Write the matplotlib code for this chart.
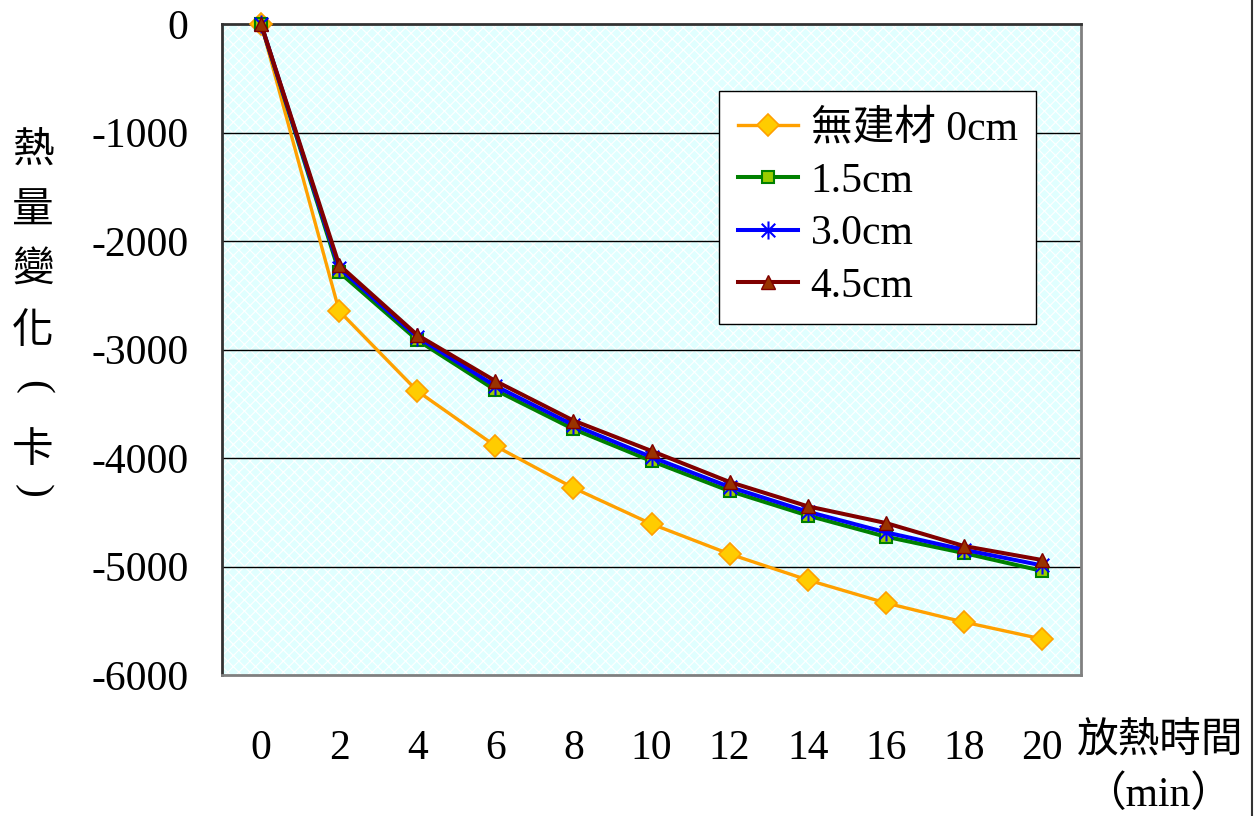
import matplotlib
matplotlib.use("Agg")
import matplotlib.pyplot as plt
from matplotlib.path import Path
from matplotlib.patches import Rectangle
from matplotlib.lines import Line2D

plt.rcParams['font.family'] = ['Liberation Serif', 'Noto Sans CJK TC']
plt.rcParams['hatch.color'] = 'white'
plt.rcParams['hatch.linewidth'] = 0.8

# heat-release time (min)
times = ["0", "2", "4", "6", "8", "10", "12", "14", "16", "18", "20"]

# heat change (cal) per insulation thickness
no_material = [0, -2645, -3382, -3889, -4276, -4608, -4885, -5124, -5336, -5512, -5668]
board_15 = [0, -2286, -2912, -3373, -3733, -4028, -4304, -4530, -4725, -4876, -5040]
board_30 = [0, -2249, -2885, -3336, -3696, -3991, -4267, -4495, -4685, -4845, -4990]
board_45 = [0, -2221, -2866, -3290, -3655, -3935, -4221, -4445, -4599, -4811, -4940]

series_labels = ["無建材 0cm", "1.5cm", "3.0cm", "4.5cm"]

y_ticks = [0, -1000, -2000, -3000, -4000, -5000, -6000]

# y-axis title written top to bottom; brackets are turned to lie across the column
y_title_chars = ["熱", "量", "變", "化", "(", "卡", ")"]
y_title_rot = [0, 0, 0, 0, -90, 0, -90]
y_title_pos = [150, 211, 270, 331, 387, 450, 491]

# asterisk marker: vertical bar plus an X
star_path = Path(
    [(0, -1), (0, 1), (-0.75, -0.75), (0.75, 0.75), (-0.75, 0.75), (0.75, -0.75)],
    [Path.MOVETO, Path.LINETO, Path.MOVETO, Path.LINETO, Path.MOVETO, Path.LINETO],
)

W, H = 1254, 816
fig = plt.figure(figsize=(W / 100, H / 100), dpi=100)
ax = fig.add_axes([222 / W, 1 - 675 / H, (1081 - 222) / W, (675 - 24) / H])

ax.set_facecolor('#E0FFFF')
ax.add_patch(Rectangle((0, 0), 1, 1, transform=ax.transAxes, facecolor='none',
                       hatch='xxx', linewidth=0, zorder=0))

x = list(range(len(times)))
styles = [
    dict(color='#FFA000', linewidth=2.4, marker='D', markersize=11,
         markerfacecolor='#FFCC00', markeredgecolor='#FFA000', markeredgewidth=1.2),
    dict(color='#008000', linewidth=2.9, marker='s', markersize=9,
         markerfacecolor='#99CC00', markeredgecolor='#008000', markeredgewidth=1.5),
    dict(color='#0000FF', linewidth=2.9, marker=star_path, markersize=13,
         markerfacecolor='none', markeredgecolor='#0000FF', markeredgewidth=1.5),
    dict(color='#800000', linewidth=2.9, marker='^', markersize=10,
         markerfacecolor='#993300', markeredgecolor='#800000', markeredgewidth=1.0),
]
for vals, lab, st in zip([no_material, board_15, board_30, board_45], series_labels, styles):
    ax.plot(x, vals, label=lab, clip_on=False, zorder=3, **st)

ax.set_xlim(-0.5, len(times) - 0.5)
ax.set_ylim(-6000, 0)
ax.set_xticks(x)
ax.set_xticklabels(times)
ax.set_yticks(y_ticks)
ax.set_yticklabels([str(v) for v in y_ticks])
ax.tick_params(axis='both', length=0, labelsize=30)
ax.tick_params(axis='x', pad=39)
ax.tick_params(axis='y', pad=24)

for yv in y_ticks[1:-1]:
    ax.axhline(yv, color='black', linewidth=1.0, zorder=1)

for side in ['top', 'left']:
    ax.spines[side].set_color('#333333')
    ax.spines[side].set_linewidth(2.0)
for side in ['right', 'bottom']:
    ax.spines[side].set_color('#808080')
    ax.spines[side].set_linewidth(2.0)

leg = ax.legend(loc='upper left', bbox_to_anchor=((719 - 222) / 859, (675 - 91) / 651),
                borderaxespad=0, fontsize=30, frameon=True, fancybox=False,
                edgecolor='black', framealpha=1, handlelength=1.45, handletextpad=0.3,
                labelspacing=0.33, borderpad=0.45)
leg.get_frame().set_linewidth(1.0)

# vertical y-axis title, one character per row
for ch, rot, yp in zip(y_title_chars, y_title_rot, y_title_pos):
    if rot:
        fig.text(33 / W, 1 - yp / H, ch, ha='center', va='center', rotation=rot,
                 fontsize=30, family=['Liberation Serif'])
    else:
        fig.text(33 / W, 1 - yp / H, ch, ha='center', va='center',
                 fontsize=30, family=['Noto Sans CJK TC'])

# x-axis title, two lines at the lower right
fig.text(1077 / W, 1 - 740 / H, "放熱時間", ha='left', va='center', fontsize=30,
         family=['Noto Sans CJK TC'])
fig.text(1158 / W, 1 - 795 / H, "（min）", ha='center', va='center', fontsize=30,
         family=['Liberation Serif', 'Noto Sans CJK TC'])

fig.add_artist(Line2D([1252 / W, 1252 / W], [0, 1], transform=fig.transFigure,
                      color='#333333', linewidth=1.5))

fig.savefig("out.png", dpi=100)
